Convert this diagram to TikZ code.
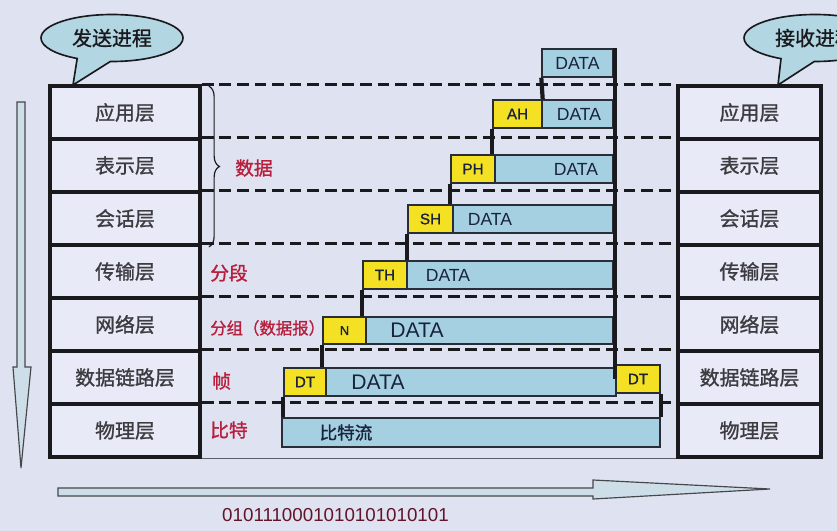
\documentclass[tikz,border=0pt]{standalone}
\usepackage{fontspec}
\setmainfont{Liberation Sans}
\newfontfamily\cjk[FakeBold=1.2]{Noto Sans CJK SC}
\newfontfamily\hdrfont[FakeBold=1]{Liberation Sans}
\usepackage{xcolor}
\definecolor{bgFill}{RGB}{223,226,241}
\definecolor{layerFill}{RGB}{233,234,247}
\definecolor{lineDark}{RGB}{25,25,30}
\definecolor{boxLine}{RGB}{40,45,55}
\definecolor{dataBlue}{RGB}{165,208,226}
\definecolor{hdrYellow}{RGB}{245,225,35}
\definecolor{labelRed}{RGB}{185,30,60}
\definecolor{bitRed}{RGB}{100,20,40}
\definecolor{textNavy}{RGB}{25,35,60}
\definecolor{bubbleFill}{RGB}{178,214,226}
\definecolor{arrowFill}{RGB}{205,222,232}
\definecolor{floorGray}{RGB}{90,95,110}
\usepackage{tikz}
\usetikzlibrary{shapes.callouts,calc,decorations.pathreplacing}
\tikzstyle{layer}=[draw=lineDark, line width=3.2pt, fill=layerFill, minimum width=4.5cm, minimum height=1.59cm, text=lineDark!85, font=\cjk\fontsize{17}{20}\selectfont]
\tikzstyle{hdr}=[draw=boxLine, line width=1.2pt, fill=hdrYellow, minimum height=0.84cm, inner sep=0pt, text=textNavy, font=\hdrfont\fontsize{13}{15}\selectfont]
\tikzstyle{pkt}=[draw=boxLine, line width=1.2pt, fill=dataBlue, minimum height=0.84cm, inner sep=0pt]
\tikzstyle{pktText}=[text=textNavy, inner sep=0pt, font=\fontsize{15}{17}\selectfont]
\tikzstyle{unitLabel}=[anchor=west, inner sep=0pt, text=labelRed, font=\cjk\fontsize{16}{18}\selectfont]
\tikzstyle{dashline}=[draw=lineDark, line width=2.6pt, dash pattern=on 10pt off 5pt]
\tikzstyle{stepline}=[draw=lineDark, line width=3.6pt]
\tikzstyle{floorline}=[draw=floorGray, line width=1pt]
\tikzstyle{bubble}=[ellipse callout, draw=lineDark, line width=1.4pt, fill=bubbleFill, minimum width=4.26cm, minimum height=1.41cm, callout pointer arc=28, text=lineDark, font=\cjk\fontsize{17}{20}\selectfont]
\tikzstyle{hollow}=[draw=lineDark!80, line width=1pt, fill=arrowFill]

\begin{document}
\begin{tikzpicture}[x=0.03cm, y=-0.03cm]
  \useasboundingbox (0,0) rectangle (837,531);
  \fill[bgFill] (0,0) rectangle (837,531);
  \clip (0,0) rectangle (837,531);

  % sending stack
  \node[layer] (sApp) at (125,112.5) {应用层};
  \node[layer] (sPre) at (125,165.5) {表示层};
  \node[layer] (sSes) at (125,218.5) {会话层};
  \node[layer] (sTra) at (125,271.5) {传输层};
  \node[layer] (sNet) at (125,324.5) {网络层};
  \node[layer] (sLnk) at (125,377.5) {数据链路层};
  \node[layer] (sPhy) at (125,430.5) {物理层};

  % receiving stack
  \node[layer, minimum width=4.29cm] (rApp) at (749.5,112.5) {应用层};
  \node[layer, minimum width=4.29cm] (rPre) at (749.5,165.5) {表示层};
  \node[layer, minimum width=4.29cm] (rSes) at (749.5,218.5) {会话层};
  \node[layer, minimum width=4.29cm] (rTra) at (749.5,271.5) {传输层};
  \node[layer, minimum width=4.29cm] (rNet) at (749.5,324.5) {网络层};
  \node[layer, minimum width=4.29cm] (rLnk) at (749.5,377.5) {数据链路层};
  \node[layer, minimum width=4.29cm] (rPhy) at (749.5,430.5) {物理层};

  % layer boundaries
  \draw[dashline] (sApp.north east) -- (rApp.north west);
  \draw[dashline] (sPre.north east) -- (rPre.north west);
  \draw[dashline] (sSes.north east) -- (rSes.north west);
  \draw[dashline] (sTra.north east) -- (rTra.north west);
  \draw[dashline] (sNet.north east) -- (rNet.north west);
  \draw[dashline] (sLnk.north east) -- (rLnk.north west);
  \draw[dashline] (sPhy.north east) -- (rPhy.north west);
  \draw[floorline] (sPhy.south east) -- (rPhy.south west);

  % data units
  \draw[decorate, decoration={brace, amplitude=9pt}, line width=1pt, lineDark]
    ($(sApp.north east)+(7,2)$) -- ($(sSes.south east)+(7,0)$);
  \node[unitLabel] (uData) at (235,168) {数据};
  \node[unitLabel] (uSeg) at (210,273) {分段};
  \node[unitLabel, font=\cjk\fontsize{14}{16}\selectfont] (uPkt) at (210,328) {分组（数据报）};
  \node[unitLabel] (uFrm) at (212,381) {帧};
  \node[unitLabel] (uBit) at (210,430) {比特};

  % encapsulation
  \node[pkt, minimum width=2.13cm] (dTop) at (577.5,63) {};
  \node[pktText] (tTop) at (577.5,63) {DATA};
  \node[hdr, minimum width=1.47cm] (hA) at (517.5,114) {AH};
  \node[pkt, minimum width=2.13cm] (dA) at (577.5,114) {};
  \node[pktText] (tA) at (579,114) {DATA};
  \node[hdr, minimum width=1.32cm] (hP) at (473,169) {PH};
  \node[pkt, minimum width=3.54cm] (dP) at (554,169) {};
  \node[pktText] (tP) at (576,169) {DATA};
  \node[hdr, minimum width=1.35cm] (hS) at (430.5,219) {SH};
  \node[pkt, minimum width=4.8cm] (dS) at (533,219) {};
  \node[pktText] (tS) at (490,219) {DATA};
  \node[hdr, minimum width=1.32cm] (hT) at (385,275) {TH};
  \node[pkt, minimum width=6.18cm] (dT) at (510,275) {};
  \node[pktText] (tT) at (448,275) {DATA};
  \node[hdr, minimum width=1.29cm, minimum height=0.81cm, font=\hdrfont\fontsize{11}{13}\selectfont] (hN) at (344.5,330.5) {N};
  \node[pkt, minimum width=7.41cm, minimum height=0.81cm] (dN) at (489.5,330.5) {};
  \node[pktText, font=\fontsize{18}{20}\selectfont] (tN) at (417,330.5) {DATA};
  \node[hdr, minimum width=1.26cm] (hL) at (305,382) {DT};
  \node[pkt, minimum width=8.7cm] (dL) at (471,382) {};
  \node[pktText, font=\fontsize{18}{20}\selectfont] (tL) at (378,382) {DATA};
  \node[hdr, minimum width=1.32cm] (hR) at (638,379) {DT};
  \node[pkt, minimum width=11.34cm, minimum height=0.87cm] (bits) at (471,432.5) {};
  \node[pktText, font=\cjk\fontsize{15}{17}\selectfont] (tBits) at (346,432.5) {比特流};

  \draw[stepline] (dTop.south west) -- (hA.north east);
  \draw[stepline] (hA.south west) -- (hA.south west |- hP.north);
  \draw[stepline] (hP.south west) -- (hP.south west |- hS.north);
  \draw[stepline] (hS.south west) -- (hS.south west |- hT.north);
  \draw[stepline] (hT.south west) -- (hT.south west |- hN.north);
  \draw[stepline] (hN.south west) -- (hN.south west |- hL.north);
  \draw[stepline] (hL.south west) -- (hL.south west |- bits.north);
  \draw[stepline] (hR.south east) -- (hR.south east |- bits.north);
  \draw[stepline] (dTop.north east -| hR.west) -- (hR.west);

  % processes
  \coordinate (tipL) at (73,85);
  \node[bubble, callout absolute pointer=(tipL)] (bSend) at (112,38) {发送进程};
  \coordinate (tipR) at (778,85);
  \node[bubble, callout absolute pointer=(tipR)] (bRecv) at (815,38) {接收进程};

  % direction arrows
  \draw[hollow] (17,102) -- (25,102) -- (25,367) -- (31,367) -- (21,468)
    -- (13,367) -- (17,367) -- cycle;
  \draw[hollow] (58,488) -- (593,488) -- (593,480) -- (770,489) -- (593,499)
    -- (593,496) -- (58,496) -- cycle;
  \node[anchor=west, inner sep=0pt, text=bitRed, font=\fontsize{16}{18}\selectfont] (bitStr) at (222,515) {0101110001010101010101};
\end{tikzpicture}
\end{document}
